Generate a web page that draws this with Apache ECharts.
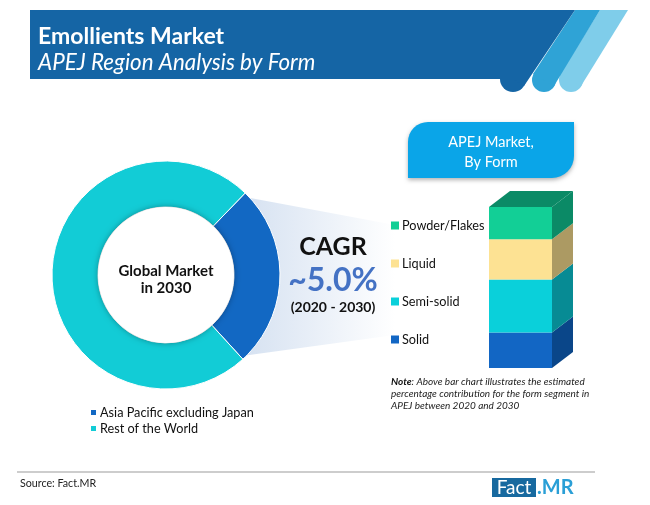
<!DOCTYPE html>
<html>
<head>
<meta charset="utf-8">
<title>Emollients Market</title>
<script src="https://cdn.jsdelivr.net/npm/echarts@6/dist/echarts.min.js"></script>
<style>
html, body { margin: 0; padding: 0; background: #fff; }
#chart { width: 650px; height: 505px; }
</style>
</head>
<body>
<div id="chart"></div>
<script>
// donut: global market in 2030
var regionNames = ['Asia Pacific excluding Japan', 'Rest of the World'];
var regionValues = [26, 74];
var regionColors = ['#1268c3', '#12ccd6'];

// stacked block, bottom to top
var formNames = ['Solid', 'Semi-solid', 'Liquid', 'Powder/Flakes'];
var formValues = [22, 33, 25, 20];
var formColors = ['#1266c4', '#0ad0da', '#fde293', '#12cf96'];
var formSideColors = ['#0a4689', '#078b94', '#ac9a63', '#0b8a66'];
var formCategory = ['APEJ'];

var chart = echarts.init(document.getElementById('chart'));
var fontName = 'Lato';

// bottom and top of every block segment, used for the 3D side faces
var depthData = [];
var total = 0;
formValues.forEach(function (v, i) {
    depthData.push([total, total + v, i]);
    total += v;
});

function renderDepth(params, api) {
    var start = api.value(0);
    var end = api.value(1);
    var idx = api.value(2);
    var low = api.coord([0, start]);
    var high = api.coord([0, end]);
    var w = api.size([1, 0])[0];
    var dx = 21, dy = 16;
    var left = low[0] - w / 2;
    var right = low[0] + w / 2;
    var children = [{
        type: 'polygon',
        shape: { points: [[right, low[1]], [right + dx, low[1] - dy], [right + dx, high[1] - dy], [right, high[1]]] },
        style: { fill: formSideColors[idx] }
    }];
    if (idx === formValues.length - 1) {
        children.push({
            type: 'polygon',
            shape: { points: [[left, high[1]], [left + dx, high[1] - dy], [right + dx, high[1] - dy], [right, high[1]]] },
            style: { fill: formSideColors[idx] }
        });
    }
    return { type: 'group', children: children };
}

var series = [{
    type: 'pie',
    name: 'Global Market',
    center: [166, 275],
    radius: [68, 114],
    startAngle: 46,
    silent: true,
    label: { show: false },
    labelLine: { show: false },
    itemStyle: { borderColor: '#fff', borderWidth: 1 },
    data: regionNames.map(function (n, i) {
        return { name: n, value: regionValues[i], itemStyle: { color: regionColors[i] } };
    }),
    z: 3
}];

formNames.forEach(function (n, i) {
    series.push({
        type: 'bar',
        name: n,
        stack: 'form',
        barWidth: '100%',
        silent: true,
        itemStyle: { color: formColors[i] },
        data: [formValues[i]]
    });
});

series.push({
    type: 'custom',
    name: 'depth',
    renderItem: renderDepth,
    silent: true,
    clip: false,
    encode: { x: -1, y: [0, 1] },
    data: depthData
});

var option = {
    animation: false,
    backgroundColor: '#fff',
    textStyle: { fontFamily: fontName },
    grid: { left: 489, top: 207, width: 63, height: 161 },
    xAxis: { type: 'category', data: formCategory, show: false },
    yAxis: { type: 'value', min: 0, max: 100, show: false },
    legend: [{
        left: 84,
        top: 401,
        orient: 'vertical',
        selectedMode: false,
        icon: 'rect',
        itemWidth: 7,
        itemHeight: 7,
        itemGap: 3,
        data: regionNames,
        textStyle: { fontFamily: fontName, fontSize: 12.7, color: '#111', padding: [0, 0, 0, -2] }
    }, {
        left: 386,
        top: 214,
        orient: 'vertical',
        selectedMode: false,
        icon: 'rect',
        itemWidth: 8,
        itemHeight: 8,
        itemGap: 25,
        data: formNames.slice().reverse(),
        textStyle: { fontFamily: fontName, fontSize: 12.7, color: '#111', padding: [0, 0, 0, -2] }
    }],
    graphic: {
        elements: [
            // header band: three slanted stripes with rounded feet
            { type: 'circle', z: 1, shape: { cx: 571, cy: 80, r: 12 }, style: { fill: '#7fcdea' } },
            {
                type: 'polygon', z: 1,
                shape: { points: [[600, 10], [628, 10], [581, 86], [560, 74]] },
                style: { fill: '#7fcdea' }
            },
            { type: 'circle', z: 2, shape: { cx: 544, cy: 80, r: 12 }, style: { fill: '#2fa3d6' } },
            {
                type: 'polygon', z: 2,
                shape: { points: [[575, 10], [600, 10], [554, 86], [533, 74]] },
                style: { fill: '#2fa3d6' }
            },
            { type: 'circle', z: 3, shape: { cx: 513, cy: 79, r: 13 }, style: { fill: '#1565a5' } },
            {
                type: 'polygon', z: 3,
                shape: { points: [[30, 10], [575, 10], [524, 86], [513, 79], [30, 79]] },
                style: { fill: '#1565a5' }
            },
            {
                type: 'text', z: 4, left: 38, top: 25,
                style: { text: 'Emollients Market', fill: '#fff', font: 'bold 23px ' + fontName }
            },
            {
                type: 'text', z: 4, left: 38, top: 52,
                style: { text: 'APEJ Region Analysis by Form', fill: '#fff', font: 'italic 22.4px ' + fontName }
            },
            // fade from the blue slice towards the CAGR text
            {
                type: 'polygon', z: 0,
                shape: { points: [[245, 197], [395, 225], [395, 335], [242, 356]] },
                style: {
                    fill: new echarts.graphic.LinearGradient(0, 0, 1, 0, [
                        { offset: 0, color: '#d5e1f1' },
                        { offset: 1, color: '#ffffff' }
                    ])
                }
            },
            // donut hole
            {
                type: 'circle', z: 5,
                shape: { cx: 166, cy: 275, r: 68 },
                style: { fill: '#fff', shadowBlur: 6, shadowColor: 'rgba(0,0,0,0.35)' }
            },
            {
                type: 'text', z: 6, x: 166, y: 280,
                style: {
                    text: 'Global Market\nin 2030', fill: '#111', font: 'bold 15px ' + fontName,
                    align: 'center', verticalAlign: 'middle', lineHeight: 17
                }
            },
            {
                type: 'text', z: 6, x: 333, y: 247,
                style: { text: 'CAGR', fill: '#111', font: 'bold 25px ' + fontName, align: 'center', verticalAlign: 'middle' }
            },
            {
                type: 'text', z: 6, x: 333, y: 281,
                style: { text: '~5.0%', fill: '#4472c4', font: 'bold 32px ' + fontName, align: 'center', verticalAlign: 'middle' }
            },
            {
                type: 'text', z: 6, x: 333, y: 307,
                style: { text: '(2020 - 2030)', fill: '#111', font: 'bold 14px ' + fontName, align: 'center', verticalAlign: 'middle' }
            },
            // callout above the block
            {
                type: 'rect', z: 3,
                shape: { x: 408, y: 122, width: 166, height: 56, r: [20, 0, 22, 0] },
                style: { fill: '#0aa5e8', shadowBlur: 4, shadowOffsetY: 2, shadowColor: 'rgba(0,0,0,0.3)' }
            },
            {
                type: 'text', z: 4, x: 491, y: 152,
                style: {
                    text: 'APEJ Market,\nBy Form', fill: '#fff', font: '14.5px ' + fontName,
                    align: 'center', verticalAlign: 'middle', lineHeight: 20
                }
            },
            // note
            {
                type: 'text', z: 4, left: 391, top: 376,
                style: {
                    text: '{b|Note}: Above bar chart illustrates the estimated\npercentage contribution for the form segment in\nAPEJ between 2020 and 2030',
                    fill: '#222', font: 'italic 10px ' + fontName, lineHeight: 12,
                    rich: { b: { font: 'italic bold 10px ' + fontName, fill: '#111' } }
                }
            },
            // footer
            {
                type: 'line', z: 1,
                shape: { x1: 17, y1: 472, x2: 595, y2: 472 },
                style: { stroke: '#bdbdbd', lineWidth: 1.5 }
            },
            {
                type: 'text', z: 4, left: 20, top: 478,
                style: { text: 'Source: Fact.MR', fill: '#222', font: '10.7px ' + fontName }
            },
            {
                type: 'rect', z: 3,
                shape: { x: 492, y: 478, width: 44, height: 19 },
                style: { fill: '#17699f' }
            },
            {
                type: 'text', z: 4, x: 514, y: 488,
                style: { text: 'Fact', fill: '#fff', font: '19px ' + fontName, align: 'center', verticalAlign: 'middle' }
            },
            {
                type: 'text', z: 4, x: 537, y: 488,
                style: { text: '.MR', fill: '#2a9fd6', font: 'bold 20px ' + fontName, verticalAlign: 'middle' }
            }
        ]
    },
    series: series
};

chart.setOption(option);
</script>
</body>
</html>
